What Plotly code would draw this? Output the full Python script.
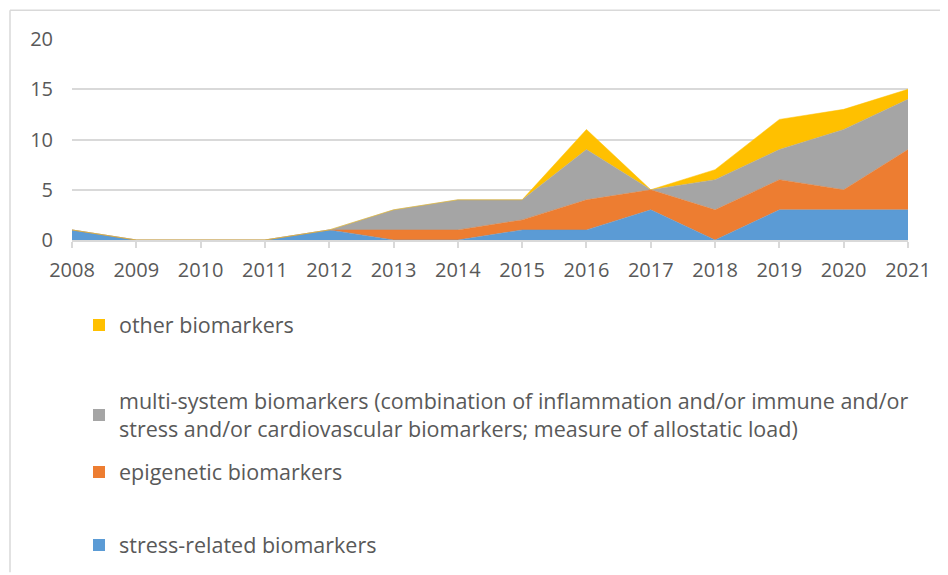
import plotly.graph_objects as go

years = list(range(2008, 2022))
stress = [1, 0, 0, 0, 1, 0, 0, 1, 1, 3, 0, 3, 3, 3]
epigenetic = [0, 0, 0, 0, 0, 1, 1, 1, 3, 2, 3, 3, 2, 6]
multi = [0, 0, 0, 0, 0, 2, 3, 2, 5, 0, 3, 3, 6, 5]
other = [0, 0, 0, 0, 0, 0, 0, 0, 2, 0, 1, 3, 2, 1]

names = [
    "stress-related biomarkers",
    "epigenetic biomarkers",
    "multi-system biomarkers (combination of inflammation and/or immune and/or<br>stress and/or cardiovascular biomarkers; measure of allostatic load)",
    "other biomarkers",
]
colors = ["#5B9BD5", "#ED7D31", "#A5A5A5", "#FFC000"]
series = [stress, epigenetic, multi, other]

FONT = "Open Sans"
TXT = "#595959"

OFF = 8  # page body margin
W, H = 948 - OFF, 575 - OFF
L, R, T, B = 64, 40, 31, 334
ph = H - T - B
pw = W - L - R

def py(p):
    # p: page pixel y in reference
    return (H - B - (p - OFF)) / ph

def px(p):
    return ((p - OFF) - L) / pw

fig = go.Figure()
for vals, c in zip(series, colors):
    fig.add_trace(go.Scatter(
        x=years, y=vals, stackgroup="one", mode="lines",
        line=dict(width=0.5, color=c), fillcolor=c, showlegend=False,
    ))

legend_y = [545, 472, 415, 325]
legend_names = ["legend4", "legend3", "legend2", "legend"]
for name, c, ly, ln in zip(names, colors, legend_y, legend_names):
    fig.add_trace(go.Scatter(
        x=[None], y=[None], mode="markers", name=name,
        marker=dict(symbol="square", size=12, color=c),
        legend=ln, showlegend=True,
    ))

leg_common = dict(xanchor="left", yanchor="middle", bgcolor="rgba(0,0,0,0)",
                  font=dict(family=FONT, size=21.5, color=TXT), itemwidth=30)
layout_legends = {}
for ln, ly in zip(legend_names, legend_y):
    layout_legends[ln] = dict(x=px(79), y=py(ly), **leg_common)

fig.update_layout(
    width=W, height=H,
    margin=dict(l=L, r=R, t=T, b=B),
    paper_bgcolor="white", plot_bgcolor="white",
    font=dict(family=FONT, size=20, color=TXT),
    **layout_legends,
    xaxis=dict(
        range=[2008, 2021], tickvals=years, ticktext=[str(y) for y in years],
        showgrid=False, zeroline=False, showline=True, linecolor="#D9D9D9", linewidth=1.5,
        ticks="outside", ticklen=6, tickcolor="#D9D9D9", tickwidth=1.5,
        ticklabelstandoff=5,
        tickfont=dict(family=FONT, size=20, color=TXT),
    ),
    yaxis=dict(
        range=[0, 20], tickvals=[0, 5, 10, 15, 20],
        showgrid=True, gridcolor="#D9D9D9", gridwidth=1.5, zeroline=False, showline=False,
        ticklabelstandoff=18,
        tickfont=dict(family=FONT, size=20, color=TXT),
    ),
    shapes=[
        dict(type="line", xref="paper", yref="paper", x0=px(10), x1=px(948), y0=py(10), y1=py(10),
             line=dict(color="#D9D9D9", width=1.5)),
        dict(type="line", xref="paper", yref="paper", x0=px(10), x1=px(10), y0=py(10), y1=py(575),
             line=dict(color="#D9D9D9", width=1.5)),
    ],
)

fig.write_html("out.html")
